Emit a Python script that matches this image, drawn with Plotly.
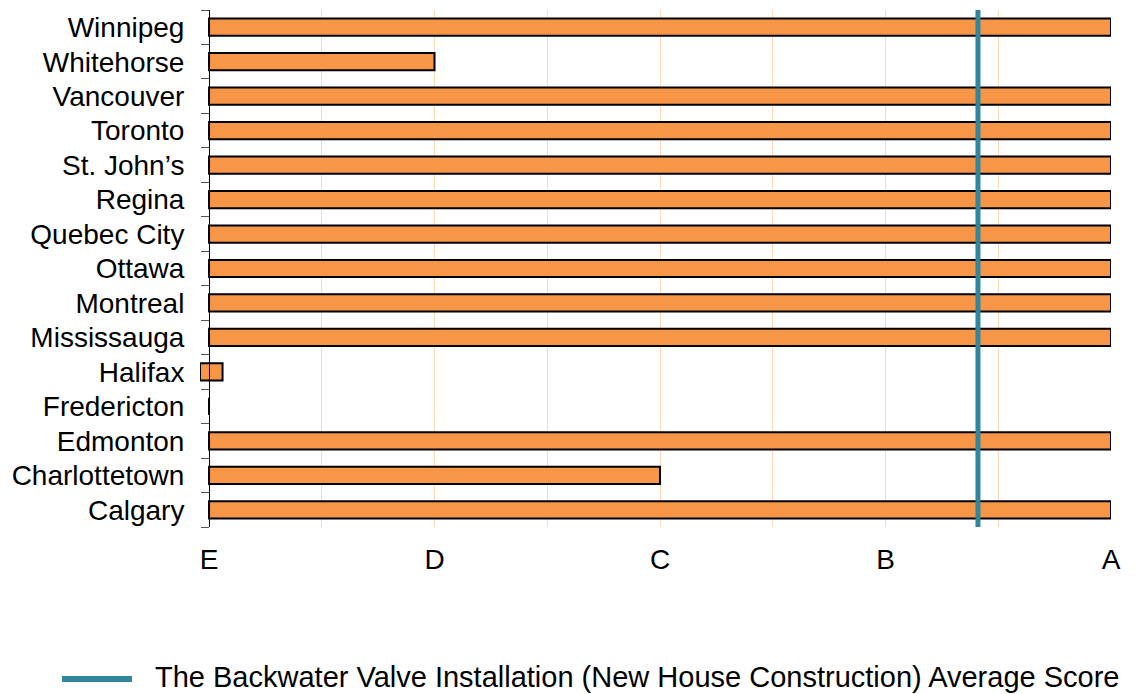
import plotly.graph_objects as go

cities = ["Calgary", "Charlottetown", "Edmonton", "Fredericton", "Halifax", "Mississauga",
          "Montreal", "Ottawa", "Quebec City", "Regina", "St. John’s", "Toronto",
          "Vancouver", "Whitehorse", "Winnipeg"]
scores = [4.0, 2.0, 4.0, 0.0, 0.1, 4.0, 4.0, 4.0, 4.0, 4.0, 4.0, 4.0, 4.0, 1.0, 4.0]
bases = [0, 0, 0, 0, -0.04, 0, 0, 0, 0, 0, 0, 0, 0, 0, 0]
average_score = 3.41
grade_vals = [0, 1, 2, 3, 4]
grade_labels = ["E", "D", "C", "B", "A"]
avg_name = "The Backwater Valve Installation (New House Construction) Average Score"

FONT = "Liberation Sans, Arial, sans-serif"
AVG_COLOR = "#31859c"
X_MIN, X_MAX = -0.04, 4.0

fig = go.Figure()
fig.add_trace(go.Bar(
    y=cities, x=scores, base=bases, orientation="h", width=0.5,
    marker=dict(color="#f79646", line=dict(color="#000000", width=2)),
    showlegend=False, hoverinfo="x+y"))
fig.add_trace(go.Scatter(
    x=[average_score, average_score], y=[0, 1], yaxis="y2", mode="lines",
    line=dict(color=AVG_COLOR, width=5), name=avg_name, showlegend=False))

# layout geometry in pixels
L, R, T, B = 200, 25, 10, 167
W, H = 1136, 694
pw, ph = W - L - R, H - T - B
def px_x(px):
    return (px - L) / pw
def px_y(py):
    return (H - B - py) / ph

# legend drawn in paper coordinates
fig.add_shape(type="line", xref="paper", yref="paper",
              x0=px_x(62), x1=px_x(132), y0=px_y(679), y1=px_y(679),
              line=dict(color=AVG_COLOR, width=6))
fig.add_annotation(xref="paper", yref="paper", x=px_x(153), y=px_y(677),
                   xanchor="left", yanchor="middle", showarrow=False,
                   text=avg_name, font=dict(size=29, family=FONT, color="#000000"))

fig.update_layout(
    width=W, height=H,
    margin=dict(l=L, r=R, t=T, b=B, autoexpand=False),
    paper_bgcolor="white", plot_bgcolor="white",
    font=dict(family=FONT, size=28, color="#000000"),
    showlegend=False,
    xaxis=dict(range=[X_MIN, X_MAX], tickvals=grade_vals, ticktext=grade_labels,
               showgrid=False, zeroline=False, showline=False,
               ticks="", ticklabelstandoff=13,
               minor=dict(dtick=0.5, tick0=0, showgrid=True, gridcolor="#fcd9b4", gridwidth=1),
               fixedrange=True),
    yaxis=dict(range=[-0.5, 14.5], anchor="free", position=(0 - X_MIN) / (X_MAX - X_MIN),
               showline=True, linecolor="#000000", linewidth=1,
               ticks="outside", tickson="boundaries", ticklen=8, tickcolor="#555555",
               showgrid=False, zeroline=False, ticklabelstandoff=19),
    yaxis2=dict(overlaying="y", range=[0, 1], visible=False),
)

fig.write_html("out.html", config={"displayModeBar": False},
               post_script="document.body.style.margin='0px';document.body.style.overflow='hidden';")
